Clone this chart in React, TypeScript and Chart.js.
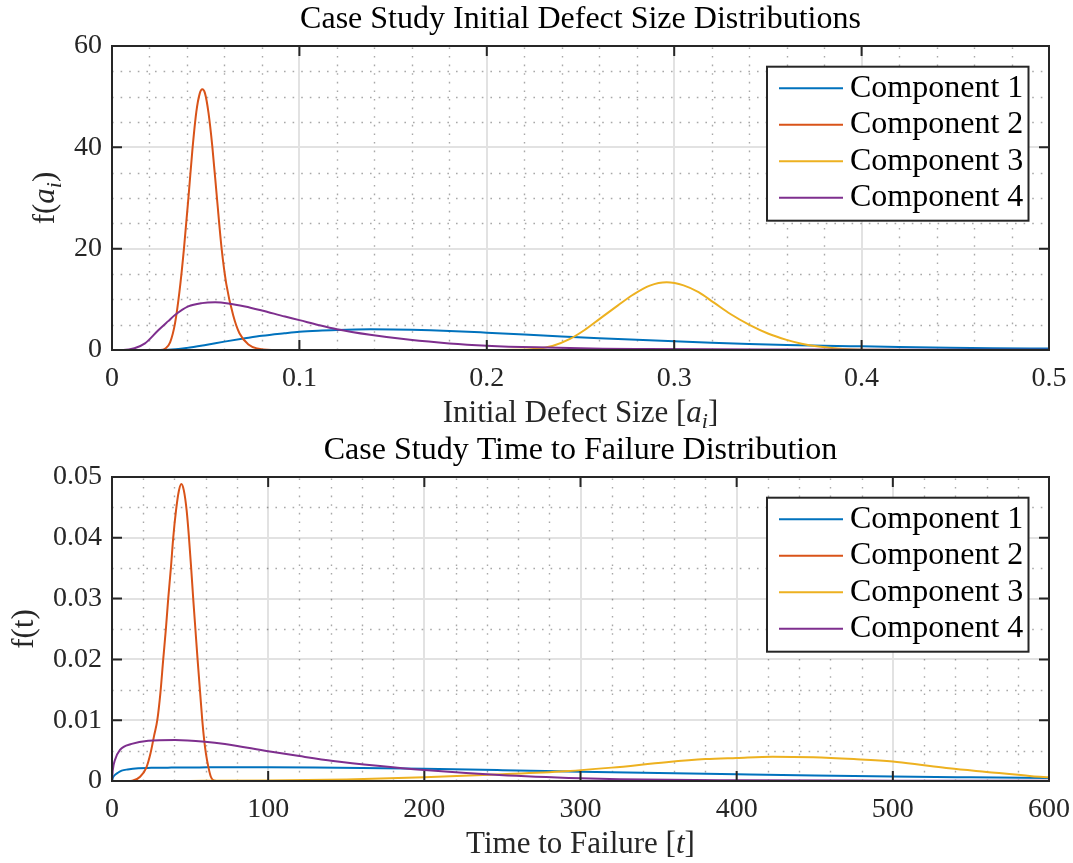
import { useEffect, useRef } from "react";
import { Chart, registerables } from "chart.js";

Chart.register(...registerables);

const SERIF = "'Liberation Serif', 'Times New Roman', serif";
const INK = "#262626";

const componentLabels = ["Component 1", "Component 2", "Component 3", "Component 4"];
const componentColors = ["#0072BD", "#D95319", "#EDB120", "#7E2F8E"];

// ---- Initial defect size densities f(a_i) ----
const sizeC1X = [0, 0.02, 0.03, 0.04, 0.05, 0.06, 0.071, 0.08, 0.092, 0.1, 0.11, 0.12, 0.13, 0.138, 0.15, 0.16, 0.17, 0.18, 0.2, 0.22, 0.24, 0.26, 0.28, 0.3, 0.32, 0.34, 0.36, 0.38, 0.4, 0.42, 0.447, 0.47, 0.5];
const sizeC1Y = [0, 0, 0.05, 0.42, 1.0, 1.65, 2.3, 2.8, 3.3, 3.6, 3.82, 3.96, 4.05, 4.08, 4.06, 4.0, 3.9, 3.76, 3.42, 3.06, 2.68, 2.32, 2.0, 1.72, 1.44, 1.2, 1.0, 0.84, 0.72, 0.6, 0.46, 0.37, 0.28];

const sizeC2X = [0, 0.026, 0.0285, 0.031, 0.0336, 0.036, 0.0384, 0.041, 0.0429, 0.045, 0.0468, 0.0482, 0.0496, 0.0515, 0.0535, 0.056, 0.0585, 0.061, 0.0647, 0.068, 0.0728, 0.0775, 0.085, 0.1, 0.2, 0.3, 0.4, 0.5];
const sizeC2Y = [0, 0, 0.3, 1.5, 5.2, 11.5, 20, 31, 39.5, 47, 50.6, 51.45, 50.7, 46.8, 40.3, 30, 20, 13, 6.8, 3.3, 1.1, 0.3, 0.02, 0, 0, 0, 0, 0];

const sizeC3X = [0, 0.2, 0.215, 0.225, 0.235, 0.2444, 0.252, 0.2604, 0.27, 0.278, 0.287, 0.296, 0.305, 0.313, 0.321, 0.33, 0.3404, 0.35, 0.36, 0.368, 0.376, 0.39, 0.41, 0.43, 0.5];
const sizeC3Y = [0, 0, 0.05, 0.2, 0.8, 2.2, 3.9, 6.2, 8.8, 10.9, 12.7, 13.35, 12.75, 11.4, 9.4, 7.1, 4.9, 3.25, 2.0, 1.25, 0.72, 0.22, 0.03, 0, 0];

const sizeC4X = [0, 0.006, 0.012, 0.0176, 0.0247, 0.03, 0.0336, 0.0407, 0.048, 0.055, 0.062, 0.071, 0.08, 0.0923, 0.1, 0.11, 0.12, 0.1377, 0.159, 0.18, 0.2, 0.2266, 0.262, 0.285, 0.32, 0.36, 0.4, 0.45, 0.5];
const sizeC4Y = [0, 0, 0.35, 1.3, 3.9, 5.7, 6.9, 8.6, 9.25, 9.4, 9.2, 8.6, 7.8, 6.6, 5.9, 4.95, 4.1, 3.0, 2.0, 1.3, 0.86, 0.52, 0.27, 0.2, 0.13, 0.09, 0.06, 0.04, 0.03];

const sizeTicksX = [0, 0.1, 0.2, 0.3, 0.4, 0.5];
const sizeTicksY = [0, 20, 40, 60];

// ---- Time to failure densities f(t) ----
const timeC1X = [0, 0.5, 1.9, 4, 6.2, 10, 16.8, 25, 38, 56, 70, 100, 130, 160, 200, 250, 300, 350, 400, 450, 500, 550, 600];
const timeC1Y = [0, 0.0005, 0.001, 0.0014, 0.0017, 0.0019, 0.0021, 0.00216, 0.0022, 0.00223, 0.00226, 0.00226, 0.00222, 0.00214, 0.002, 0.00178, 0.00154, 0.00131, 0.0011, 0.0009, 0.00073, 0.0006, 0.00048];

const timeC2X = [0, 10, 13, 18, 22, 24.7, 27, 29, 31, 32.8, 34.5, 36, 37.7, 39.2, 41, 42.8, 44.4, 46, 47.8, 49.3, 50.7, 52, 53.4, 54.8, 56.3, 57.8, 59, 60.1, 61.8, 63.3, 65, 67, 100, 200, 300, 400, 500, 600];
const timeC2Y = [0, 0, 0.00005, 0.0007, 0.0022, 0.0046, 0.0075, 0.01, 0.0145, 0.02, 0.025, 0.03, 0.035, 0.04, 0.0445, 0.0477, 0.04885, 0.0478, 0.0445, 0.04, 0.035, 0.03, 0.025, 0.02, 0.015, 0.01, 0.0068, 0.0046, 0.0022, 0.0007, 0.0001, 0, 0, 0, 0, 0, 0, 0];

const timeC3X = [0, 50, 100, 150, 200, 250, 290, 320, 355, 380, 400, 423, 449, 475, 500, 520, 536, 560, 589, 600];
const timeC3Y = [0, 0.00002, 0.00008, 0.00025, 0.0006, 0.0011, 0.0016, 0.0022, 0.0031, 0.0036, 0.0038, 0.004, 0.0039, 0.0036, 0.0032, 0.0026, 0.0021, 0.0015, 0.0008, 0.0006];

const timeC4X = [0, 0.5, 1.9, 5.1, 12.6, 23.2, 40.3, 59.5, 72.3, 100, 120, 141.6, 170, 200, 248, 300, 325, 400, 500, 600];
const timeC4Y = [0, 0.0018, 0.00345, 0.0051, 0.0061, 0.00663, 0.00674, 0.00647, 0.0061, 0.0049, 0.0041, 0.0033, 0.0025, 0.0018, 0.00099, 0.00044, 0.00028, 0.00012, 0.00006, 0.00003];

const timeTicksX = [0, 100, 200, 300, 400, 500, 600];
const timeTicksY = [0, 0.01, 0.02, 0.03, 0.04, 0.05];

type Seg = { text: string; italic?: boolean; sub?: boolean };

type PlotSpec = {
  title: string;
  xTitle: Seg[];
  yTitle: Seg[];
  yTitleX: number;
  series: [number[], number[]][];
  xTicks: number[];
  yTicks: number[];
  xMinor: number;
  yMinor: number;
};

const sizePlot: PlotSpec = {
  title: "Case Study Initial Defect Size Distributions",
  xTitle: [{ text: "Initial Defect Size [" }, { text: "a", italic: true }, { text: "i", italic: true, sub: true }, { text: "]" }],
  yTitle: [{ text: "f(" }, { text: "a", italic: true }, { text: "i", italic: true, sub: true }, { text: ")" }],
  yTitleX: 54,
  series: [[sizeC1X, sizeC1Y], [sizeC2X, sizeC2Y], [sizeC3X, sizeC3Y], [sizeC4X, sizeC4Y]],
  xTicks: sizeTicksX,
  yTicks: sizeTicksY,
  xMinor: 0.02,
  yMinor: 5,
};

const timePlot: PlotSpec = {
  title: "Case Study Time to Failure Distribution",
  xTitle: [{ text: "Time to Failure [" }, { text: "t", italic: true }, { text: "]" }],
  yTitle: [{ text: "f(t)" }],
  yTitleX: 33,
  series: [[timeC1X, timeC1Y], [timeC2X, timeC2Y], [timeC3X, timeC3Y], [timeC4X, timeC4Y]],
  xTicks: timeTicksX,
  yTicks: timeTicksY,
  xMinor: 20,
  yMinor: 0.005,
};

const CANVAS_W = 1073;
const CANVAS_H = 432;
const LABEL_SIZE = 31;
const TITLE_SIZE = 32;
const LEGEND_SIZE = 32;
const TICK_SIZE = 28;

function segFont(s: Seg, size: number) {
  const px = s.sub ? Math.round(size * 0.7) : size;
  return `${s.italic ? "italic " : ""}${px}px ${SERIF}`;
}

// Draws a centred run of mixed upright / italic / subscript text.
function drawRich(ctx: CanvasRenderingContext2D, segs: Seg[], x: number, y: number, size: number, rotate: boolean) {
  ctx.save();
  ctx.translate(x, y);
  if (rotate) ctx.rotate(-Math.PI / 2);
  let total = 0;
  for (const s of segs) {
    ctx.font = segFont(s, size);
    total += ctx.measureText(s.text).width;
  }
  let cx = -total / 2;
  ctx.textAlign = "left";
  ctx.textBaseline = "alphabetic";
  ctx.fillStyle = INK;
  for (const s of segs) {
    ctx.font = segFont(s, size);
    ctx.fillText(s.text, cx, s.sub ? size * 0.22 : 0);
    cx += ctx.measureText(s.text).width;
  }
  ctx.restore();
}

// MATLAB-style axes: dotted minor grid, inward ticks on all sides, box, legend, rich axis labels.
const matlabAxes = {
  id: "matlabAxes",
  beforeDatasetsDraw(chart: any, _args: any, opts: any) {
    const { ctx, chartArea: a, scales } = chart;
    const xs = scales.x;
    const ys = scales.y;
    ctx.save();
    ctx.beginPath();
    ctx.rect(a.left, a.top, a.right - a.left, a.bottom - a.top);
    ctx.clip();
    ctx.strokeStyle = "rgba(38,38,38,0.4)";
    ctx.lineWidth = 1.4;
    ctx.setLineDash([1.6, 7]);
    const nx = Math.round((xs.max - xs.min) / opts.xMinor);
    for (let k = 1; k < nx; k++) {
      const v = xs.min + k * opts.xMinor;
      if (opts.xTicks.some((t: number) => Math.abs(t - v) < opts.xMinor * 0.01)) continue;
      const p = Math.round(xs.getPixelForValue(v)) + 0.5;
      ctx.beginPath();
      ctx.moveTo(p, a.bottom);
      ctx.lineTo(p, a.top);
      ctx.stroke();
    }
    const ny = Math.round((ys.max - ys.min) / opts.yMinor);
    for (let k = 1; k < ny; k++) {
      const v = ys.min + k * opts.yMinor;
      if (opts.yTicks.some((t: number) => Math.abs(t - v) < opts.yMinor * 0.01)) continue;
      const p = Math.round(ys.getPixelForValue(v)) + 0.5;
      ctx.beginPath();
      ctx.moveTo(a.left, p);
      ctx.lineTo(a.right, p);
      ctx.stroke();
    }
    ctx.restore();
  },
  afterDatasetsDraw(chart: any) {
    const { ctx, chartArea: a, scales } = chart;
    const xs = scales.x;
    const ys = scales.y;
    const len = 10;
    ctx.save();
    ctx.strokeStyle = INK;
    ctx.lineWidth = 2;
    ctx.beginPath();
    for (const t of xs.ticks) {
      const p = xs.getPixelForValue(t.value);
      ctx.moveTo(p, a.bottom);
      ctx.lineTo(p, a.bottom - len);
      ctx.moveTo(p, a.top);
      ctx.lineTo(p, a.top + len);
    }
    for (const t of ys.ticks) {
      const p = ys.getPixelForValue(t.value);
      ctx.moveTo(a.left, p);
      ctx.lineTo(a.left + len, p);
      ctx.moveTo(a.right, p);
      ctx.lineTo(a.right - len, p);
    }
    ctx.stroke();
    ctx.strokeRect(a.left, a.top, a.right - a.left, a.bottom - a.top);
    ctx.restore();
  },
  afterDraw(chart: any, _args: any, opts: any) {
    const { ctx, chartArea: a } = chart;
    // legend box in the upper right of the axes
    const bx = a.right - 282;
    const by = a.top + 20.7;
    const bw = 261.5;
    const bh = 154;
    ctx.save();
    ctx.fillStyle = "#ffffff";
    ctx.fillRect(bx, by, bw, bh);
    ctx.strokeStyle = INK;
    ctx.lineWidth = 2;
    ctx.strokeRect(bx, by, bw, bh);
    chart.data.datasets.forEach((ds: any, i: number) => {
      const ry = by + 21.6 + i * 36.5;
      ctx.strokeStyle = ds.borderColor;
      ctx.lineWidth = 2;
      ctx.beginPath();
      ctx.moveTo(bx + 12, ry);
      ctx.lineTo(bx + 76, ry);
      ctx.stroke();
      ctx.fillStyle = "#000000";
      ctx.font = `${LEGEND_SIZE}px ${SERIF}`;
      ctx.textAlign = "left";
      ctx.textBaseline = "alphabetic";
      ctx.fillText(ds.label, bx + 83, ry + 8.6);
    });
    ctx.restore();
    // axis labels
    drawRich(ctx, opts.xTitle, (a.left + a.right) / 2, a.bottom + 71.5, LABEL_SIZE, false);
    drawRich(ctx, opts.yTitle, opts.yTitleX, (a.top + a.bottom) / 2, LABEL_SIZE, true);
  },
};

function buildConfig(spec: PlotSpec): any {
  const datasets = spec.series.map(([xs, ys], i) => ({
    label: componentLabels[i],
    data: xs.map((x, j) => ({ x, y: ys[j] })),
    borderColor: componentColors[i],
    backgroundColor: componentColors[i],
    borderWidth: 2,
    pointRadius: 0,
    fill: false,
    cubicInterpolationMode: "monotone",
    order: spec.series.length - i,
  }));
  const tickFont = { family: SERIF, size: TICK_SIZE };
  return {
    type: "line",
    data: { datasets },
    plugins: [matlabAxes],
    options: {
      animation: false,
      responsive: false,
      devicePixelRatio: 1,
      events: [],
      layout: { padding: { left: 0, right: 24, top: 0, bottom: 0 } },
      scales: {
        x: {
          type: "linear",
          min: spec.xTicks[0],
          max: spec.xTicks[spec.xTicks.length - 1],
          afterBuildTicks: (s: any) => {
            s.ticks = spec.xTicks.map((v) => ({ value: v }));
          },
          afterFit: (s: any) => {
            s.height = CANVAS_H - 350;
            s.paddingLeft = 0;
            s.paddingRight = 0;
          },
          grid: { color: "#e2e2e2", lineWidth: 2, drawTicks: false },
          border: { display: false },
          ticks: {
            color: INK,
            font: tickFont,
            padding: 12,
            maxRotation: 0,
            autoSkip: false,
            callback: (v: number) => String(v),
          },
        },
        y: {
          type: "linear",
          min: spec.yTicks[0],
          max: spec.yTicks[spec.yTicks.length - 1],
          afterBuildTicks: (s: any) => {
            s.ticks = spec.yTicks.map((v) => ({ value: v }));
          },
          afterFit: (s: any) => {
            s.width = 112;
            s.paddingTop = 0;
            s.paddingBottom = 0;
          },
          grid: { color: "#e2e2e2", lineWidth: 2, drawTicks: false },
          border: { display: false },
          ticks: {
            color: INK,
            font: tickFont,
            padding: 10,
            autoSkip: false,
            callback: (v: number) => String(v),
          },
        },
      },
      plugins: {
        legend: { display: false },
        tooltip: { enabled: false },
        title: {
          display: true,
          text: spec.title,
          color: "#000000",
          fullSize: false,
          font: { family: SERIF, size: TITLE_SIZE, weight: "normal" },
          padding: { top: 0, bottom: 46 - TITLE_SIZE * 1.2 },
        },
        matlabAxes: {
          xTitle: spec.xTitle,
          yTitle: spec.yTitle,
          yTitleX: spec.yTitleX,
          xTicks: spec.xTicks,
          yTicks: spec.yTicks,
          xMinor: spec.xMinor,
          yMinor: spec.yMinor,
        },
      },
    },
  };
}

function PlotCanvas({ spec, top }: { spec: PlotSpec; top: number }) {
  const ref = useRef<HTMLCanvasElement>(null);
  useEffect(() => {
    const chart = new Chart(ref.current as HTMLCanvasElement, buildConfig(spec));
    return () => chart.destroy();
  }, [spec]);
  return (
    <canvas
      ref={ref}
      width={CANVAS_W}
      height={CANVAS_H}
      style={{ position: "absolute", left: 0, top, width: CANVAS_W, height: CANVAS_H }}
    />
  );
}

export default function App() {
  return (
    <div style={{ position: "absolute", left: 0, top: 0, width: 1073, height: 863, background: "#ffffff" }}>
      <PlotCanvas spec={sizePlot} top={0} />
      <PlotCanvas spec={timePlot} top={431} />
    </div>
  );
}
